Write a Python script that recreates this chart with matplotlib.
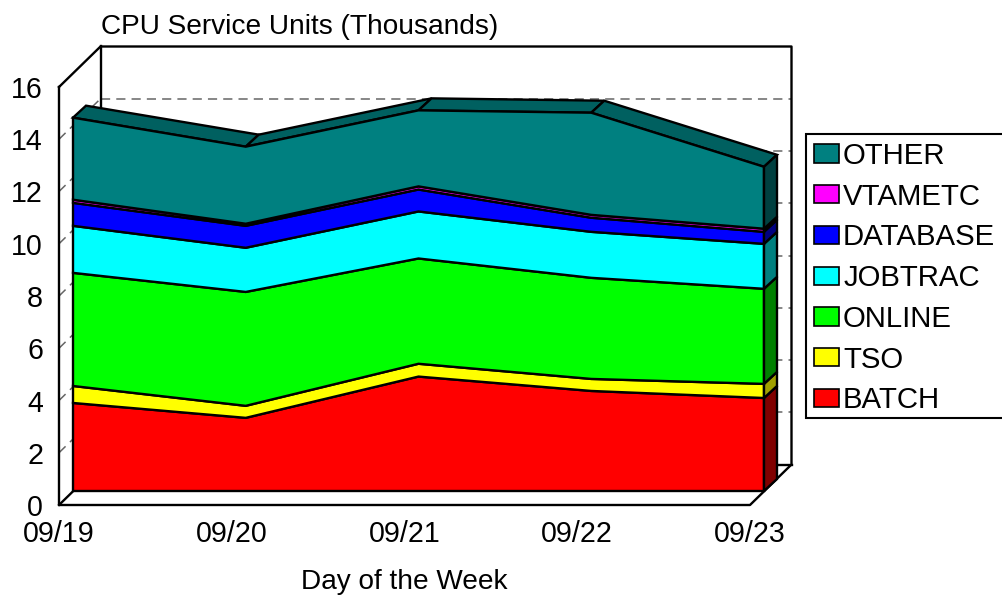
import matplotlib
matplotlib.use("Agg")
import matplotlib.pyplot as plt
from matplotlib.patches import Patch, Rectangle
import numpy as np

plt.rcParams['font.family'] = ['Liberation Sans', 'DejaVu Sans']

days = ["09/19", "09/20", "09/21", "09/22", "09/23"]
y_ticks = [0, 2, 4, 6, 8, 10, 12, 14, 16]

batch = [3.37, 2.80, 4.38, 3.83, 3.56]
tso = [0.65, 0.46, 0.49, 0.46, 0.54]
online = [4.33, 4.36, 4.03, 3.87, 3.64]
jobtrac = [1.80, 1.69, 1.80, 1.76, 1.72]
database = [0.88, 0.84, 0.84, 0.54, 0.46]
vtametc = [0.12, 0.08, 0.12, 0.11, 0.12]
other = [3.14, 2.95, 2.91, 3.91, 2.37]

names = ["BATCH", "TSO", "ONLINE", "JOBTRAC", "DATABASE", "VTAMETC", "OTHER"]
series = [batch, tso, online, jobtrac, database, vtametc, other]
colors = ["#ff0000", "#ffff00", "#00ff00", "#00ffff", "#0000ff", "#ff00ff", "#008080"]
side_colors = ["#800000", "#a0a000", "#008000", "#008080", "#000080", "#800080", "#004040"]
top_color = "#006060"

W, H = 1002, 595
PX_X = 691 / 4      # pixels per day
PX_Y = 418 / 16     # pixels per thousand

# depth of the fake 3d box, converted from pixels to data units
wall_x, wall_y = 41.5 / PX_X, 40.5 / PX_Y
front_x, front_y = 14 / PX_X, 14 / PX_Y
depth_x, depth_y = 13 / PX_X, 12 / PX_Y

fig = plt.figure(figsize=(W / 100, H / 100), dpi=100)
ax = fig.add_axes([59 / W, 1 - 505 / H, 691 / W, 418 / H])
ax.set_xlim(0, 4)
ax.set_ylim(0, 16)
for s in ax.spines.values():
    s.set_visible(False)
ax.patch.set_visible(False)

LW = 1.7
GRID = dict(color="#666666", lw=1.1, dashes=(6, 4), clip_on=False, zorder=1)
FRAME = dict(color="black", lw=LW, clip_on=False, zorder=2, solid_capstyle="projecting")

## walls and floor
for v in y_ticks[1:-1]:
    ax.plot([wall_x, 4 + wall_x], [v + wall_y, v + wall_y], **GRID)
    ax.plot([0, wall_x], [v, v + wall_y], **GRID)
ax.plot([0, 0, 4, 4 + wall_x, 4 + wall_x, wall_x, 0], [16, 0, 0, wall_y, 16 + wall_y, 16 + wall_y, 16], **FRAME)
ax.plot([wall_x, wall_x], [wall_y, 16 + wall_y], **FRAME)
ax.plot([0, wall_x], [0, wall_y], **FRAME)
ax.plot([wall_x, 4 + wall_x], [wall_y, wall_y], **FRAME)

## stacked areas
x = np.arange(len(days)) + front_x
base = np.zeros(len(days))
for vals, c, sc in zip(series, colors, side_colors):
    top = base + np.array(vals)
    px = np.concatenate([x, x[::-1]])
    py = np.concatenate([top, base[::-1]]) + front_y
    ax.fill(px, py, facecolor=c, edgecolor="black", lw=LW, clip_on=False, zorder=4, joinstyle="miter")
    # side face on the right
    ax.fill([x[-1], x[-1] + depth_x, x[-1] + depth_x, x[-1]],
            [top[-1] + front_y, top[-1] + front_y + depth_y, base[-1] + front_y + depth_y, base[-1] + front_y],
            facecolor=sc, edgecolor="black", lw=LW, clip_on=False, zorder=4)
    base = top

# top faces
for i in range(len(days) - 1):
    ax.fill([x[i], x[i + 1], x[i + 1] + depth_x, x[i] + depth_x],
            [base[i] + front_y, base[i + 1] + front_y, base[i + 1] + front_y + depth_y, base[i] + front_y + depth_y],
            facecolor=top_color, edgecolor="black", lw=LW, clip_on=False, zorder=3.5)

FS = 20.2
ax.set_xticks(range(len(days)))
ax.set_xticklabels(days, fontsize=20.6)
ax.set_yticks(y_ticks)
ax.set_yticklabels([str(v) for v in y_ticks], fontsize=20.6)
ax.tick_params(length=0, axis="x", pad=11)
ax.tick_params(length=0, axis="y", pad=11.5)

fig.text(101 / W, 1 - 27.5 / H, "CPU Service Units (Thousands)", fontsize=FS, ha="left", va="center")
fig.text(404 / W, 1 - 582 / H, "Day of the Week", fontsize=FS, ha="center", va="center")

# legend box runs off the right edge of the picture
fig.add_artist(Rectangle((806 / W, 1 - 418 / H), 200 / W, 284 / H, transform=fig.transFigure,
                         facecolor="white", edgecolor="black", lw=1.5))
handles = [Patch(facecolor=c, edgecolor="black", lw=1.2, label=n) for n, c in zip(names, colors)]
leg = fig.legend(handles=handles[::-1], loc="upper left", bbox_to_anchor=(806.6 / W, 1 - 134.5 / H),
                 bbox_transform=fig.transFigure, borderaxespad=0, fontsize=21.2, frameon=False,
                 handlelength=0.85, handleheight=0.58, handletextpad=0.14,
                 labelspacing=0.433, borderpad=0.25)

fig.savefig("out.png", dpi=100)
